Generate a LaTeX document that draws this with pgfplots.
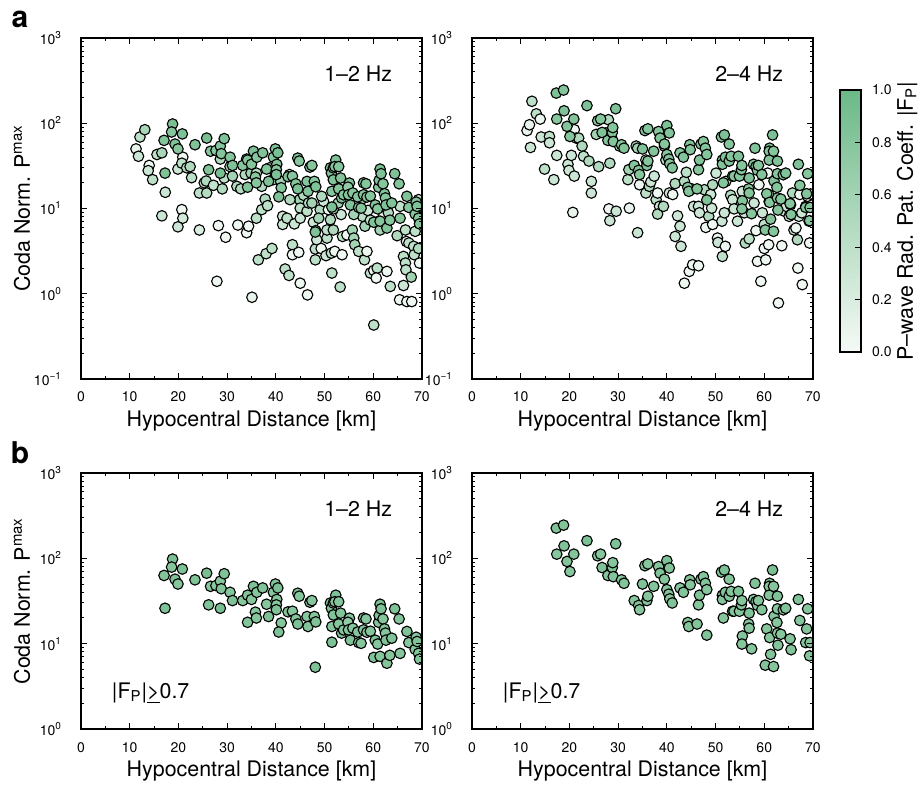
\documentclass[border=0pt]{standalone}
\usepackage{fontspec}
\setmainfont{TeX Gyre Heros}
\usepackage{pgfplots}
\usepackage{pgfplotstable}
\pgfplotsset{compat=1.18}

\newcommand\labsz{\fontsize{10.7pt}{12pt}\selectfont}
\newcommand\ticksz{\fontsize{7pt}{8pt}\selectfont}

% distance [km], coda-normalised Pmax, |F_P|
\pgfplotstableread{
x y c
11.3 50 0.08
11.8 41 0.3
12.1 69 0.4
13.1 84 0.55
14.0 32 0.05
13.8 27.8 0.3
14.7 21.8 0.4
15.6 43 0.4
16.6 45 0.55
16.6 8.2 0.3
17.3 15.5 0.3
19.9 29 0.3
19.9 6.1 0.3
20.7 9.7 0.05
20.9 7.7 0.25
20.9 40 0.05
20.7 34 0.4
21.7 30 0.5
22.7 23 0.4
22.4 31 0.5
24.3 5.6 0.2
24.3 15.2 0.4
25.8 15.2 0.45
25.3 20 0.4
25.7 21 0.5
27.2 18.7 0.35
28.2 6.3 0.05
27.9 1.4 0.05
28.6 38 0.5
29.0 17 0.5
29.4 22.8 0.4
29.7 4.6 0.05
30.6 31 0.55
31.1 24 0.6
32.0 18.2 0.5
32.2 6.4 0.05
32.8 17 0.5
33.7 25 0.5
34.0 5.2 0.05
34.4 6.2 0.05
34.0 38 0.5
34.9 26 0.6
35.1 0.91 0.1
36.0 26 0.5
36.0 7.7 0.4
36.4 2.5 0.4
37.1 9.7 0.4
37.1 18.2 0.5
37.8 12.9 0.5
38.0 2.95 0.4
38.3 10.8 0.4
39.2 3.4 0.4
38.7 30 0.5
39.5 21.8 0.6
39.9 25.6 0.6
41.4 8.1 0.3
41.4 6.5 0.3
42.3 7.7 0.4
41.9 1.95 0.4
42.7 1.64 0.4
43.4 3.76 0.4
43.4 2.87 0.05
43.8 6.6 0.3
44.7 3.06 0.05
44.9 12.7 0.6
45.0 10.1 0.4
45.7 14.3 0.5
45.0 7.7 0.3
45.0 1.33 0.05
46.5 0.97 0.05
46.4 9.3 0.4
46.7 11.6 0.5
47.7 6.9 0.3
48.1 2.5 0.4
48.1 3.35 0.4
48.2 5.5 0.6
48.4 4.3 0.3
49.1 9.7 0.5
49.3 3.4 0.05
48.8 7.7 0.6
49.8 12.1 0.3
50.5 4.5 0.4
50.5 5.6 0.4
50.3 2.8 0.3
50.8 9.7 0.05
51.2 7.4 0.5
51.4 3.0 0.4
51.5 1.75 0.4
51.8 5.6 0.5
52.1 3.14 0.05
53.2 1.2 0.4
53.4 8.5 0.3
53.6 2.87 0.05
53.7 4.7 0.4
54.6 4.9 0.05
55.7 5.6 0.6
56.0 4.5 0.6
56.2 3.76 0.6
57.0 3.14 0.4
58.2 2.5 0.4
58.7 3.14 0.05
58.3 6.2 0.6
57.8 8.1 0.4
58.9 9.5 0.3
59.4 1.75 0.4
60.1 1.88 0.05
60.8 2.0 0.4
60.6 1.53 0.05
60.1 0.43 0.4
61.1 7.1 0.4
62.1 8.1 0.05
62.8 1.83 0.05
63.5 1.22 0.4
65.4 0.85 0.05
64.9 4.8 0.5
66.2 2.74 0.4
66.6 2.29 0.4
66.2 1.25 0.3
66.7 1.91 0.4
66.9 0.81 0.05
67.9 0.81 0.05
66.6 5.6 0.4
66.8 4.1 0.05
67.3 3.94 0.4
67.8 1.57 0.6
68.6 5.4 0.4
68.3 3.6 0.4
68.4 2.87 0.4
69.3 3.4 0.5
69.5 2.29 0.05
68.8 8.9 0.4
69.3 12.7 0.3
65.5 10.6 0.4
63.1 8.9 0.5
61.4 5.6 0.6
59.4 7.3 0.4
56.8 11.6 0.4
56.0 8.5 0.6
57.6 12.9 0.5
51.8 9.9 0.5
52.8 11.6 0.6
49.4 13.9 0.5
47.4 11.6 0.6
42.9 12.7 0.5
42.8 25 0.4
41.0 20.8 0.6
17.05 63 0.82
17.25 26 0.85
18.8 98 0.88
18.6 79 0.8
19.3 57 0.85
19.9 50 0.8
20.8 75 0.86
23.4 56 0.84
25.8 67 0.9
26.6 47 0.8
26.2 28.5 0.84
27.7 48 0.78
28.6 54 0.8
29.4 66 0.85
28.8 44 0.82
28.6 26 0.9
30.6 40 0.8
31.1 32 0.85
33.2 32 0.8
34.2 37 0.83
34.2 17.8 0.82
35.0 33 0.8
35.4 47 0.86
36.1 40 0.8
35.8 23.4 0.78
36.0 20 0.8
37.3 45 0.84
38.1 29 0.8
38.5 20.8 0.86
39.5 40 0.8
39.9 50 0.85
40.4 45 0.88
40.2 33 0.82
40.1 28.5 0.8
40.1 25 0.86
41.1 17.5 0.8
40.6 13.7 0.85
42.5 23.6 0.82
43.4 24 0.8
44.5 39 0.85
44.8 36 0.8
44.1 19.5 0.82
44.5 17 0.86
46.4 20.8 0.8
46.6 15.9 0.82
47.0 30.6 0.85
47.4 32 0.8
47.9 20.8 0.8
48.2 18 0.84
48.1 5.3 0.85
51.2 30 0.8
51.4 26 0.84
51.5 15.9 0.8
51.5 10.4 0.86
51.8 30 0.8
52.3 37 0.85
52.1 31 0.82
52.9 31 0.8
51.8 21.7 0.84
52.9 17 0.8
53.3 22.8 0.82
53.5 13.3 0.86
53.9 14.5 0.8
55.1 19.9 0.82
54.8 17.8 0.72
54.9 14.5 0.8
55.3 11 0.84
55.8 15.2 0.8
56.8 13.7 0.8
57.0 10.3 0.82
57.5 10.1 0.8
58.0 14.5 0.84
58.0 20 0.85
58.5 19.5 0.8
58.7 13.6 0.82
59.4 14 0.8
60.1 6.9 0.84
60.4 11 0.82
60.9 9.9 0.8
61.1 17.8 0.82
61.2 21.4 0.86
61.4 29 0.88
61.6 25.6 0.84
61.4 7.1 0.8
62.0 19.5 0.8
62.3 14.9 0.82
62.5 13.3 0.8
62.6 11 0.85
62.8 5.9 0.82
63.4 7.3 0.8
63.8 11.6 0.84
64.4 25.6 0.85
65.3 19.5 0.82
65.5 7.7 0.8
66.9 13.9 0.84
67.3 10.3 0.8
68.8 11.9 0.82
68.6 8.6 0.8
69.0 10.6 0.84
69.3 7.7 0.8
69.5 6.6 0.82
}\lowband

\pgfplotstableread{
x y c
11.3 82 0.1
11.8 96 0.1
12.0 52 0.3
12.3 181 0.4
13.2 129 0.4
14.0 112 0.05
14.2 69 0.3
14.9 29 0.4
15.9 70 0.4
15.9 59 0.3
16.8 21.8 0.3
17.4 42 0.3
19.7 33 0.3
19.9 28 0.3
20.4 42 0.3
21.0 24 0.3
20.7 9.0 0.1
21.0 84 0.05
21.4 67 0.4
21.9 67 0.5
22.6 54 0.5
22.9 41 0.4
24.0 36 0.5
24.5 20.8 0.3
24.5 15.2 0.3
26.0 31 0.5
25.5 74 0.6
27.5 77 0.6
28.0 110 0.5
28.6 70 0.05
28.3 34 0.5
28.1 9.9 0.05
28.3 7.2 0.3
29.6 9.3 0.3
30.3 54 0.5
32.0 21.8 0.4
32.2 28.6 0.6
32.3 10.1 0.1
34.0 5.2 0.3
34.4 19 0.05
33.7 54 0.5
34.0 51 0.6
35.7 37 0.3
35.7 15.2 0.4
36.4 18.2 0.5
36.7 20.5 0.3
37.4 24 0.3
37.8 12.7 0.4
38.1 15.2 0.05
38.5 10.6 0.3
38.1 8.6 0.5
39.3 10.6 0.5
39.8 37 0.4
39.5 54 0.5
40.5 15.2 0.3
41.2 14.6 0.05
41.7 19.6 0.5
41.7 4.7 0.3
42.2 8.2 0.3
42.7 6.2 0.3
42.9 3.6 0.3
43.6 1.33 0.05
44.6 1.83 0.05
45.3 2.19 0.05
46.5 2.13 0.05
43.6 20.8 0.5
44.0 26.6 0.4
45.2 16.9 0.05
45.5 10.6 0.3
46.5 10.6 0.3
46.7 8.9 0.3
47.7 16.6 0.5
48.0 6.0 0.05
48.6 8.1 0.5
49.4 6.5 0.05
49.2 10.1 0.3
49.0 14.6 0.3
49.4 19 0.5
50.1 26 0.3
50.4 4.5 0.05
50.5 4.0 0.3
51.4 2.74 0.4
52.0 3.6 0.05
51.3 7.1 0.3
51.8 8.9 0.3
52.1 20.8 0.3
53.1 14.3 0.5
53.5 12.7 0.3
53.8 9.9 0.3
54.5 7.1 0.3
55.5 15.9 0.3
55.9 8.9 0.3
56.1 3.94 0.5
56.9 4.4 0.4
57.9 11.6 0.3
58.3 5.5 0.05
58.6 2.4 0.05
59.3 1.4 0.05
58.9 19 0.05
59.6 8.9 0.3
60.0 6.5 0.4
60.0 3.4 0.05
60.3 2.5 0.05
60.9 3.76 0.05
60.7 26 0.05
60.9 14.6 0.3
61.0 12.1 0.3
62.9 0.78 0.05
63.6 3.66 0.05
64.1 9.3 0.3
64.5 10.6 0.3
65.1 8.1 0.3
65.4 11.1 0.3
65.8 15.2 0.5
66.1 5.6 0.3
66.5 5.9 0.05
66.8 4.3 0.5
66.9 2.0 0.05
67.1 8.1 0.3
67.3 14.6 0.05
67.8 1.28 0.05
67.7 8.9 0.3
68.5 10.6 0.3
68.9 13.9 0.3
69.3 3.94 0.05
69.2 7.1 0.3
69.5 14.8 0.05
17.3 226 0.85
18.8 245 0.82
17.4 112 0.8
18.9 140 0.84
19.5 92 0.82
20.1 70 0.8
20.9 112 0.82
23.6 161 0.86
25.8 107 0.82
26.4 112 0.8
26.7 78 0.84
27.9 63 0.8
28.8 78 0.82
28.9 89 0.8
29.0 61 0.82
29.5 148 0.85
30.7 56 0.8
31.2 51 0.82
33.3 32 0.8
34.2 28 0.82
34.4 25 0.8
35.0 50 0.84
35.5 82 0.86
36.1 86 0.8
35.9 32 0.82
36.1 36 0.8
37.3 47 0.82
38.3 80 0.8
38.6 67 0.84
39.5 57 0.8
40.0 94 0.86
40.5 77 0.82
40.0 43 0.8
40.4 38 0.82
40.6 33.5 0.8
41.1 30 0.84
42.7 45 0.8
43.4 40 0.82
44.3 17.7 0.8
44.5 15.9 0.82
44.7 56 0.84
44.8 49 0.8
46.2 17 0.82
46.5 28.5 0.8
46.7 37 0.84
47.0 57 0.82
47.5 61 0.8
47.9 51 0.82
48.2 43 0.8
48.2 12.6 0.84
51.2 69 0.82
51.8 73 0.86
51.4 37 0.8
51.4 33 0.82
51.6 20 0.8
52.0 40 0.84
52.8 57 0.8
52.8 36 0.82
53.2 41 0.8
53.5 24 0.82
53.8 24 0.8
54.7 41 0.84
54.9 24 0.8
55.3 28.5 0.82
55.4 32 0.8
55.5 12.3 0.82
55.4 9.9 0.8
56.9 22.8 0.84
56.8 17 0.8
56.9 15.2 0.82
57.4 8.7 0.8
57.8 33 0.82
58.1 51 0.84
58.3 31 0.8
58.6 28 0.82
58.8 32 0.8
59.5 25 0.82
60.5 14.9 0.8
60.2 5.6 0.82
61.1 51 0.86
61.0 47 0.8
61.0 37 0.82
61.1 11.8 0.8
61.3 7.5 0.82
61.7 73 0.88
61.9 47 0.8
62.0 21 0.82
61.9 5.4 0.8
62.7 36 0.84
62.6 17.7 0.8
62.7 13.3 0.82
62.7 25.6 0.8
62.8 9.6 0.82
63.4 12.9 0.8
63.9 24.9 0.82
64.4 26 0.84
65.3 11.4 0.8
65.5 8.5 0.82
67.0 33 0.85
67.3 18.7 0.8
68.5 10.3 0.82
68.9 25.6 0.8
68.7 14.9 0.82
69.4 10.3 0.8
69.3 7.2 0.82
}\highband

\pgfplotsset{
  fpgreens/.style={
    colormap={wg}{rgb255=(245,250,246) rgb255=(107,185,135)},
    point meta min=0, point meta max=1,
  },
  fpframe/.style={
    scale only axis,
    tick align=inside,
    axis on top,
    axis line style={line width=1pt},
    every tick/.style={black, line width=0.5pt},
    tick label style={font=\ticksz},
    label style={font=\labsz},
  },
  fppanel/.style={
    fpframe, fpgreens, width=170.5pt,
    xmin=0, xmax=70,
    xtick={0,10,...,70}, xticklabels={0,10,20,30,40,50,60,70},
    minor xtick={5,15,...,65},
    major tick length=3.2pt, minor tick length=1.6pt,
    xticklabel style={yshift=-3pt},
    yticklabel style={xshift=-6pt},
    xlabel={Hypocentral Distance [km]},
    xlabel style={at={(axis description cs:0.5,0)}, anchor=center, yshift=-21pt},
    clip marker paths=true,
  },
  fptop/.style={
    height=170.5pt, ymin=0.1, ymax=1000,
    ytick={0.1,1,10,100,1000},
    yticklabels={10\textsuperscript{−1},10\textsuperscript{0},10\textsuperscript{1},10\textsuperscript{2},10\textsuperscript{3}},
    minor ytick={0.2,0.3,0.4,0.5,0.6,0.7,0.8,0.9,2,3,4,5,6,7,8,9,20,30,40,50,60,70,80,90,200,300,400,500,600,700,800,900},
  },
  fpbot/.style={
    height=128pt, ymin=1, ymax=1000,
    ytick={1,10,100,1000},
    yticklabels={10\textsuperscript{0},10\textsuperscript{1},10\textsuperscript{2},10\textsuperscript{3}},
    minor ytick={2,3,4,5,6,7,8,9,20,30,40,50,60,70,80,90,200,300,400,500,600,700,800,900},
  },
  fpleft/.style={
    ylabel={Coda Norm. P\textsuperscript{max}},
    ylabel style={at={(axis description cs:-0.173,0.5)}, anchor=center},
  },
  fpdots/.style={
    scatter, only marks, mark=*, mark size=2.65pt,
    scatter/use mapped color={draw=black, fill=mapped color, line width=0.55pt},
  },
}

\begin{document}
\begin{tikzpicture}
\useasboundingbox (0,0) rectangle (460.5pt,394.5pt);

\begin{axis}[ymode=log, fppanel, fptop, fpleft, at={(40.5pt,375.5pt)}, anchor=north west]
\addplot[fpdots, point meta=\thisrow{c}] table[x=x, y=y] {\lowband};
\node[font=\labsz, anchor=east] at (rel axis cs:0.933,0.894) {1\textendash 2 Hz};
\end{axis}

\begin{axis}[ymode=log, fppanel, fptop, at={(236pt,375.5pt)}, anchor=north west]
\addplot[fpdots, point meta=\thisrow{c}] table[x=x, y=y] {\highband};
\node[font=\labsz, anchor=east] at (rel axis cs:0.933,0.894) {2\textendash 4 Hz};
\end{axis}

% colour scale of |F_P|
\begin{axis}[fpframe, fpgreens, at={(420pt,349.5pt)}, anchor=north west,
  width=10.5pt, height=131pt,
  xmin=0, xmax=1, ymin=0, ymax=1,
  xtick=\empty,
  ytick={0,0.2,0.4,0.6,0.8,1},
  yticklabels={0.0,0.2,0.4,0.6,0.8,1.0},
  ytick pos=right, yticklabel pos=right,
  major tick length=3pt,
  yticklabel style={xshift=2pt},
  ylabel={P\textendash wave Rad. Pat. Coeff. |F\textsubscript{P}|},
  ylabel style={at={(axis description cs:3.2,0.5)}, anchor=center},
]
\addplot[surf, shader=interp, mesh/rows=2, mesh/cols=2, point meta=y]
  coordinates {(0,0) (1,0) (0,1) (1,1)};
\end{axis}

\begin{axis}[ymode=log, fppanel, fpbot, fpleft, at={(40.5pt,158pt)}, anchor=north west]
\addplot[fpdots, point meta=\thisrow{c}, restrict expr to domain={\thisrow{c}}{0.7:1}] table[x=x, y=y] {\lowband};
\node[font=\labsz, anchor=east] at (rel axis cs:0.933,0.859) {1\textendash 2 Hz};
\node[font=\labsz, anchor=west] at (rel axis cs:0.07,0.14) {|F\textsubscript{P}|\underline{>}0.7};
\end{axis}

\begin{axis}[ymode=log, fppanel, fpbot, at={(236pt,158pt)}, anchor=north west]
\addplot[fpdots, point meta=\thisrow{c}, restrict expr to domain={\thisrow{c}}{0.7:1}] table[x=x, y=y] {\highband};
\node[font=\labsz, anchor=east] at (rel axis cs:0.933,0.859) {2\textendash 4 Hz};
\node[font=\labsz, anchor=west] at (rel axis cs:0.07,0.14) {|F\textsubscript{P}|\underline{>}0.7};
\end{axis}

\node[font=\bfseries\fontsize{15pt}{15pt}\selectfont] at (10pt,385pt) {a};
\node[font=\bfseries\fontsize{15pt}{15pt}\selectfont] at (10pt,168pt) {b};
\end{tikzpicture}
\end{document}
